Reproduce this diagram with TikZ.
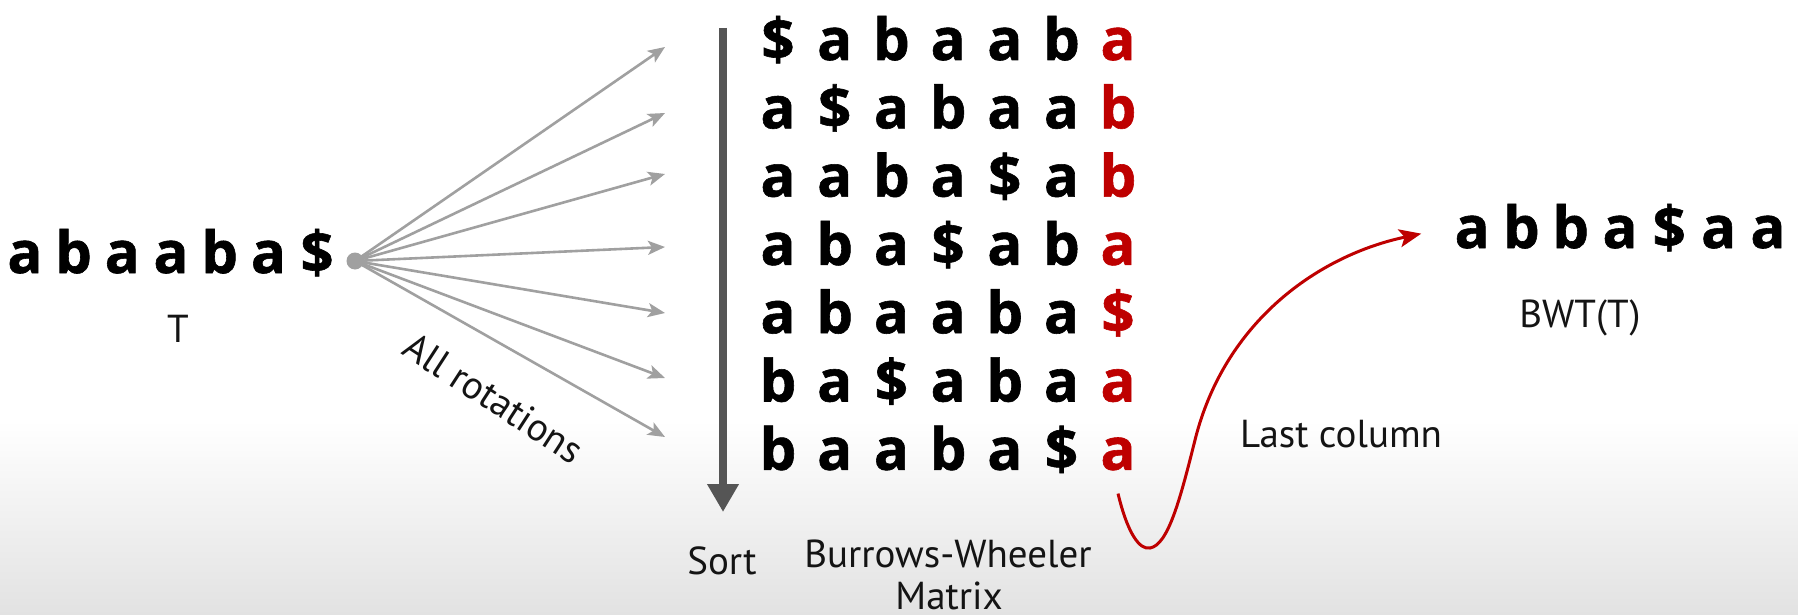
\documentclass[tikz,border=0pt]{standalone}
\usepackage{fontspec}
\setmainfont{PT Sans}
\newfontfamily\lettfont{Open Sans}[BoldFeatures={FakeBold=1}]
\usetikzlibrary{arrows.meta}
\definecolor{bwtred}{RGB}{190,0,0}
\definecolor{fangray}{RGB}{160,160,160}
\definecolor{sortgray}{RGB}{85,85,85}
\definecolor{bggray}{RGB}{226,226,226}
\definecolor{txt}{RGB}{20,20,20}
\newcommand\cbx[1]{\makebox[48.7pt]{#1}}
\newcommand\cby[1]{\makebox[49.3pt]{#1}}
\tikzset{
  letter/.style={font=\lettfont\bfseries\fontsize{58}{60}\selectfont, inner sep=0pt, anchor=base},
  lastletter/.style={letter, text=bwtred},
  lbl/.style={font=\fontsize{39}{42}\selectfont, inner sep=0pt, anchor=base, text=txt},
  fan/.style={draw=fangray, line width=2.6pt, -{Stealth[length=17pt,width=14pt,inset=4pt]}},
  sortarrow/.style={draw=sortgray, line width=8pt, -{Triangle[length=28pt,width=30pt]}},
  lastcol/.style={draw=bwtred, line width=3pt, -{Stealth[length=22pt,width=18pt,inset=5pt]}},
}
\begin{document}
\begin{tikzpicture}[x=1pt,y=-1pt]
\useasboundingbox (0,0) rectangle (1798,615);
\fill[white] (0,0) rectangle (1798,615);
\shade[top color=white, bottom color=bggray] (0,420) rectangle (1798,615);

% input text
\node[letter] (T) at (171,273) {\cbx{a}\cbx{b}\cbx{a}\cbx{a}\cbx{b}\cbx{a}\cbx{\$}};
\node[lbl] (Tlab) at (178,342) {T};

% fan of rotations
\foreach \y [count=\i] in {47,113,174,247,313,378,437} {
  \coordinate (f\i) at (665,\y);
}
\node[circle, fill=fangray, minimum size=17pt, inner sep=0pt] (dot) at (355,261) {};
\foreach \i in {1,...,7} {
  \draw[fan] (dot.center) -- (f\i);
}
\node[lbl, rotate=-33, anchor=center] (allrot) at (494,398) {All rotations};

% sort arrow
\coordinate (s1) at (723,28);
\coordinate (s2) at (723,512);
\draw[sortarrow] (s1) -- (s2);
\node[lbl] (sortlab) at (722,574) {Sort};

% matrix
\foreach \row [count=\r] in {{D,a,b,a,a,b},{a,D,a,b,a,a},{a,a,b,a,D,a},{a,b,a,D,a,b},{a,b,a,a,b,a},{b,a,D,a,b,a},{b,a,a,b,a,D}} {
  \foreach \ch [count=\c] in \row {
    \node[letter] (m-\r-\c) at ({778+56.7*(\c-1)},{60+68.3*(\r-1)}) {\if D\ch \$\else\ch\fi};
  }
}
\foreach \ch [count=\r] in {a,b,b,a,D,a,a} {
  \node[lastletter] (m-\r-7) at (1118,{60+68.3*(\r-1)}) {\if D\ch \$\else\ch\fi};
}
\node[lbl] (bw1) at (948,567) {Burrows-Wheeler};
\node[lbl] (bw2) at (949,609) {Matrix};

% BWT
\node[letter] (bwt) at (1620,248) {\cby{a}\cby{b}\cby{b}\cby{a}\cby{\$}\cby{a}\cby{a}};
\node[lbl] (bwtlab) at (1580,327) {BWT(T)};

\draw[lastcol] ([yshift=-23pt]m-7-7.south) .. controls (1128,535) and (1140,550) .. (1150,548)
   .. controls (1168,545) and (1180,500) .. (1195,440)
   .. controls (1225,320) and (1320,255) .. ([xshift=-26pt,yshift=-6pt]bwt.west);
\node[lbl, anchor=base west] (lastlab) at (1240,447) {Last column};
\end{tikzpicture}
\end{document}
